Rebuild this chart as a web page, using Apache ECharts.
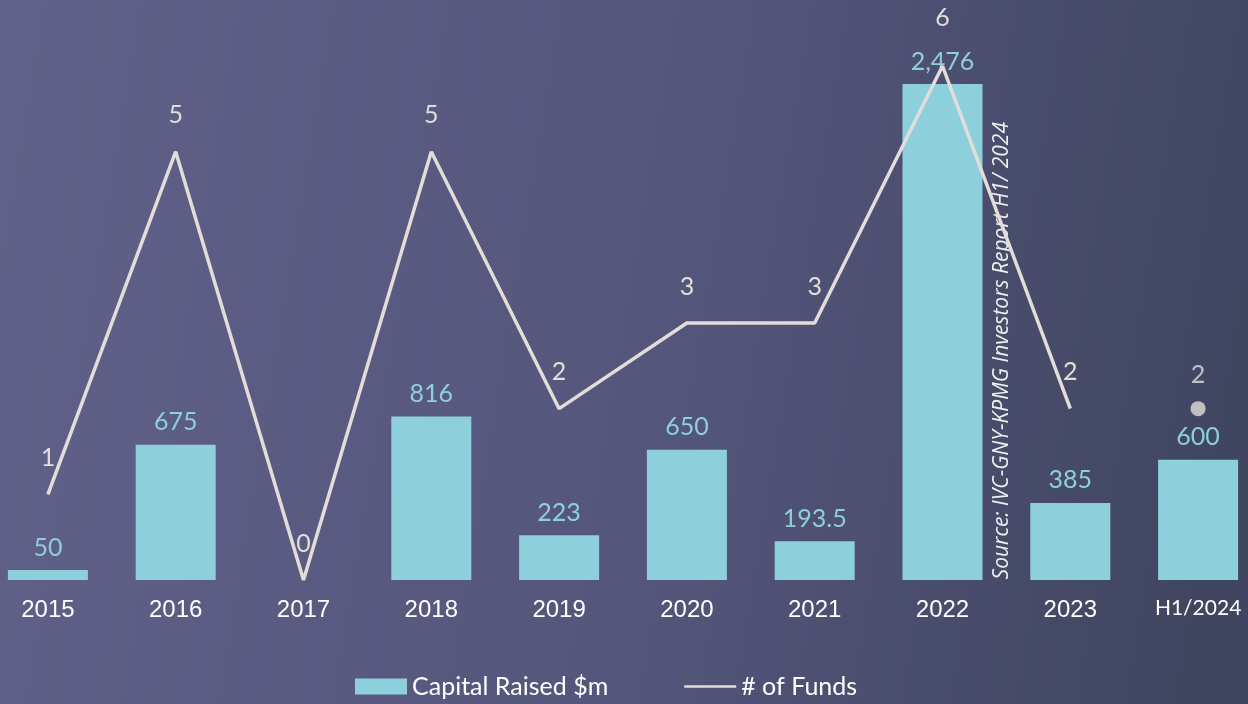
<!DOCTYPE html>
<html>
<head>
<meta charset="utf-8">
<script src="https://cdn.jsdelivr.net/npm/echarts@6/dist/echarts.min.js"></script>
<style>
  html, body { margin: 0; padding: 0; overflow: hidden; width: 1248px; height: 704px; background: #55567c; }
  /* chart is a bit wider than the window: the outer bars sit close to the edges */
  #main { position: absolute; left: -16px; top: 0; width: 1278px; height: 704px; }
</style>
</head>
<body>
<div id="main"></div>
<script>
// data
const years = ['2015', '2016', '2017', '2018', '2019', '2020', '2021', '2022', '2023', 'H1/2024']
const capitalRaised = [50, 675, 0, 816, 223, 650, 193.5, 2476, 385, 600]
const fundsCount = [1, 5, 0, 5, 2, 3, 3, 6, 2, 2]
const capitalLabels = ['50', '675', '', '816', '223', '650', '193.5', '2,476', '385', '600']

const shift = 16
const last = years.length - 1
const lineData = fundsCount.map((v, i) => i === last ? '-' : v)
const dotData = fundsCount.map((v, i) => i === last ? v : '-')

const chart = echarts.init(document.getElementById('main'))
chart.setOption({
  backgroundColor: {
    type: 'linear', x: 0, y: 0, x2: 1, y2: 0.3,
    colorStops: [
      { offset: 0, color: '#616189' },
      { offset: 0.55, color: '#55567c' },
      { offset: 1, color: '#404660' }
    ]
  },
  animation: false,
  grid: { left: 0, right: 0, top: 66, bottom: 124 },
  legend: {
    bottom: 0,
    left: 350 + shift,
    itemGap: 76,
    itemWidth: 52,
    itemHeight: 16,
    textStyle: { color: '#ffffff', fontFamily: 'Lato', fontSize: 25 },
    data: [
      { name: 'Capital Raised $m', icon: 'rect' },
      { name: '# of Funds', icon: 'path://M0,0H10V0.5H0Z', itemStyle: { color: '#e2ddd8' } }
    ]
  },
  xAxis: {
    type: 'category',
    data: years,
    axisLine: { show: false },
    axisTick: { show: false },
    axisLabel: {
      interval: 0,
      color: '#ffffff',
      fontFamily: 'Liberation Sans',
      fontSize: 24,
      margin: 18,
      formatter: v => v === 'H1/2024' ? '{s|' + v + '}' : v,
      rich: { s: { fontFamily: 'Lato', fontSize: 21, color: '#ffffff' } }
    }
  },
  yAxis: [
    { type: 'value', min: 0, max: 2566, show: false, splitLine: { show: false } },
    { type: 'value', min: 0, max: 6, show: false, splitLine: { show: false } }
  ],
  series: [
    {
      name: 'Capital Raised $m',
      type: 'bar',
      barWidth: 80,
      data: capitalRaised,
      itemStyle: { color: '#8dd0dc' },
      label: {
        show: true,
        position: 'top',
        distance: 10,
        color: '#8dd0dc',
        fontFamily: 'Lato',
        fontSize: 25,
        formatter: p => capitalLabels[p.dataIndex]
      }
    },
    {
      name: '# of Funds',
      type: 'line',
      yAxisIndex: 1,
      data: lineData.map((v, i) => i === 7 ? { value: v, label: { offset: [0, -12] } } : v),
      symbol: 'circle',
      symbolSize: 0,
      lineStyle: { color: '#e2ddd8', width: 3.5 },
      itemStyle: { color: '#e2ddd8' },
      z: 3,
      label: {
        show: true,
        position: 'top',
        distance: 24,
        color: '#e2ddd8',
        fontFamily: 'Lato',
        fontSize: 25
      }
    },
    {
      name: '# of Funds',
      type: 'scatter',
      yAxisIndex: 1,
      data: dotData,
      symbolSize: 15,
      itemStyle: { color: '#e2ddd8' },
      label: {
        show: true,
        position: 'top',
        distance: 14,
        color: '#e2ddd8',
        fontFamily: 'Lato',
        fontSize: 25
      }
    }
  ],
  graphic: [
    {
      type: 'text',
      left: 992 + shift,
      top: 122,
      rotation: Math.PI / 2,
      style: {
        text: 'Source: IVC-GNY-KPMG Investors Report H1/ 2024',
        fill: '#f0f0f0',
        font: 'italic 21px "Open Sans"'
      }
    }
  ]
})
</script>
</body>
</html>
